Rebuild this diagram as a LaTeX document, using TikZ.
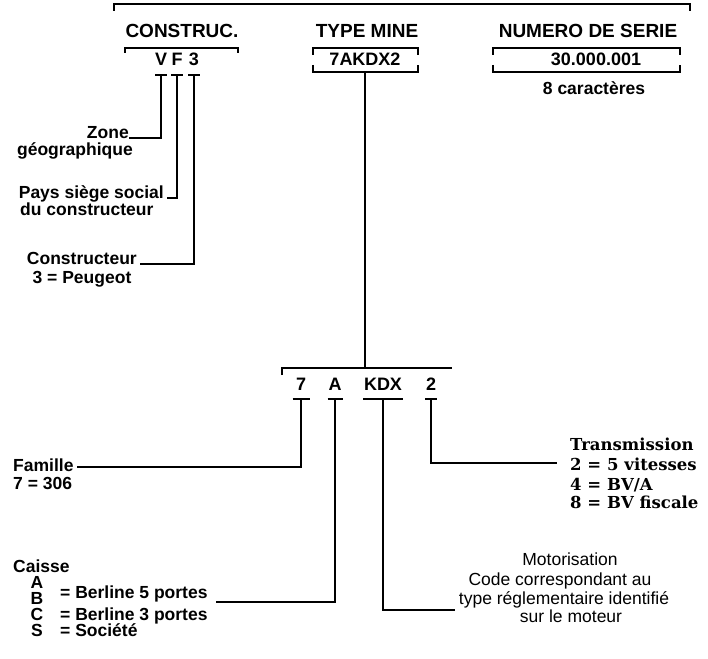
\documentclass[tikz,border=0pt]{standalone}
\usepackage{fontspec}
\setmainfont{Liberation Sans}
\newfontfamily\slabfont{DejaVu Serif}
\begin{document}
\begin{tikzpicture}[x=1pt,y=-1pt,
  ln/.style={line width=1.1pt},
  head/.style={inner sep=0pt, font=\fontsize{19}{21}\selectfont\bfseries},
  lab/.style={inner sep=0pt, font=\fontsize{17.5}{19}\selectfont\bfseries},
  code/.style={inner sep=0pt, font=\fontsize{18}{20}\selectfont\bfseries},
  reg/.style={inner sep=0pt, font=\fontsize{17.5}{19}\selectfont},
  slab/.style={inner sep=0pt, font=\fontsize{16.5}{18}\slabfont\bfseries},
]
\useasboundingbox (0,0) rectangle (708,658);

% headings
\node[head, anchor=base] (construc) at (182,38) {CONSTRUC.};
\node[head, anchor=base] (typemine) at (367,38) {TYPE MINE};
\node[head, anchor=base] (numero) at (588,38) {NUMERO DE SERIE};

% top bracket
\draw[ln] (114,11) -- (114,4) -- (690,4) -- (690,11);

% constructor bracket
\draw[ln] (125,53) -- (125,48) -- (238,48) -- (238,53);
\node[code, anchor=base] (v) at (161,66) {V};
\node[code, anchor=base] (f) at (177,66) {F};
\node[code, anchor=base] (three) at (194,66) {3};

% type mine box
\draw[ln] (313,55) -- (313,48) -- (418,48) -- (418,55);
\draw[ln] (313,65) -- (313,72) -- (418,72) -- (418,65);
\node[code, anchor=base] (tm) at (365,66) {7AKDX2};

% numero box
\draw[ln] (493,55) -- (493,48) -- (680,48) -- (680,55);
\draw[ln] (493,65) -- (493,72) -- (680,72) -- (680,65);
\node[code, anchor=base] (serie) at (596,66) {30.000.001};
\node[lab, anchor=base] (car) at (594,95) {8 caractères};

% tees under VF3
\coordinate (tv) at (161,75);
\coordinate (tf) at (177,75);
\coordinate (t3) at (194,75);
\foreach \c in {tv,tf,t3}{\draw[ln] ([xshift=-6pt]\c) -- ([xshift=6pt]\c);}

\node[lab, anchor=base east] (zone) at (129,138) {Zone};
\node[lab, anchor=base east] (geo) at (133,155) {géographique};
\node[lab, anchor=base east] (pays) at (164,198) {Pays siège social};
\node[lab, anchor=base west] (du) at (20,215) {du constructeur};
\node[lab, anchor=base east] (cons) at (137,264) {Constructeur};
\node[lab, anchor=base] (peug) at (82,283) {3 = Peugeot};

\draw[ln] (tv) |- (zone.base east);
\draw[ln] (tf) |- ([xshift=3pt]pays.base east);
\draw[ln] (t3) |- ([xshift=3pt]cons.base east);

% type mine stem and lower bracket
\coordinate (tmb) at (365,72);
\coordinate (brk) at (365,368);
\draw[ln] (tmb) -- (brk);
\draw[ln] (282,375) -- (282,368) -- (452,368);

\node[code, anchor=base] (c7) at (301,390) {7};
\node[code, anchor=base] (cA) at (335,390) {A};
\node[code, anchor=base] (cK) at (383,390) {KDX};
\node[code, anchor=base] (c2) at (431,390) {2};

\coordinate (t7) at (301,399);
\coordinate (tA) at (335,399);
\coordinate (tK) at (383,399);
\coordinate (t2) at (431,399);
\draw[ln] ([xshift=-8.5pt]t7) -- ([xshift=8.5pt]t7);
\draw[ln] ([xshift=-7.5pt]tA) -- ([xshift=7.5pt]tA);
\draw[ln] ([xshift=-20pt]tK) -- ([xshift=20pt]tK);
\draw[ln] ([xshift=-6pt]t2) -- ([xshift=6pt]t2);

% Famille
\node[lab, anchor=base west] (fam) at (13,471) {Famille};
\node[lab, anchor=base west] (fam7) at (13,489) {7 = 306};
\draw[ln] (t7) |- ([xshift=3pt,yshift=4pt]fam.base east);

% Caisse
\node[lab, anchor=base west] (caisse) at (13,572) {Caisse};
\node[lab, anchor=base] (la) at (37,588) {A};
\node[lab, anchor=base] (lb) at (37,604) {B};
\node[lab, anchor=base] (lc) at (37,620) {C};
\node[lab, anchor=base] (ls) at (37,636) {S};
\node[lab, anchor=base west] (ber5) at (60,598) {= Berline 5 portes};
\node[lab, anchor=base west] (ber3) at (60,620) {= Berline 3 portes};
\node[lab, anchor=base west] (soc) at (60,636) {= Société};
\draw[ln] (tA) |- ([xshift=8pt,yshift=-4pt]ber5.base east);

% Transmission
\node[slab, anchor=base west] (trans) at (570,450) {Transmission};
\node[slab, anchor=base west] (n2) at (570,470) {2 =};
\node[slab, anchor=base west] (n4) at (570,490) {4 =};
\node[slab, anchor=base west] (n8) at (570,508) {8 =};
\node[slab, anchor=base west] (v2) at (607,470) {5 vitesses};
\node[slab, anchor=base west] (v4) at (607,490) {BV/A};
\node[slab, anchor=base west] (v8) at (607,508) {BV fiscale};
\draw[ln] (t2) |- ([xshift=-13pt,yshift=7pt]n2.base west);

% Motorisation
\node[reg, anchor=base] (mot) at (570,565) {Motorisation};
\node[reg, anchor=base] (code) at (560,585) {Code correspondant au};
\node[reg, anchor=base] (typ) at (564,604) {type réglementaire identifié};
\node[reg, anchor=base] (sur) at (571,622) {sur le moteur};
\draw[ln] (tK) |- ([xshift=-4pt,yshift=-6pt]typ.base west);
\end{tikzpicture}
\end{document}
